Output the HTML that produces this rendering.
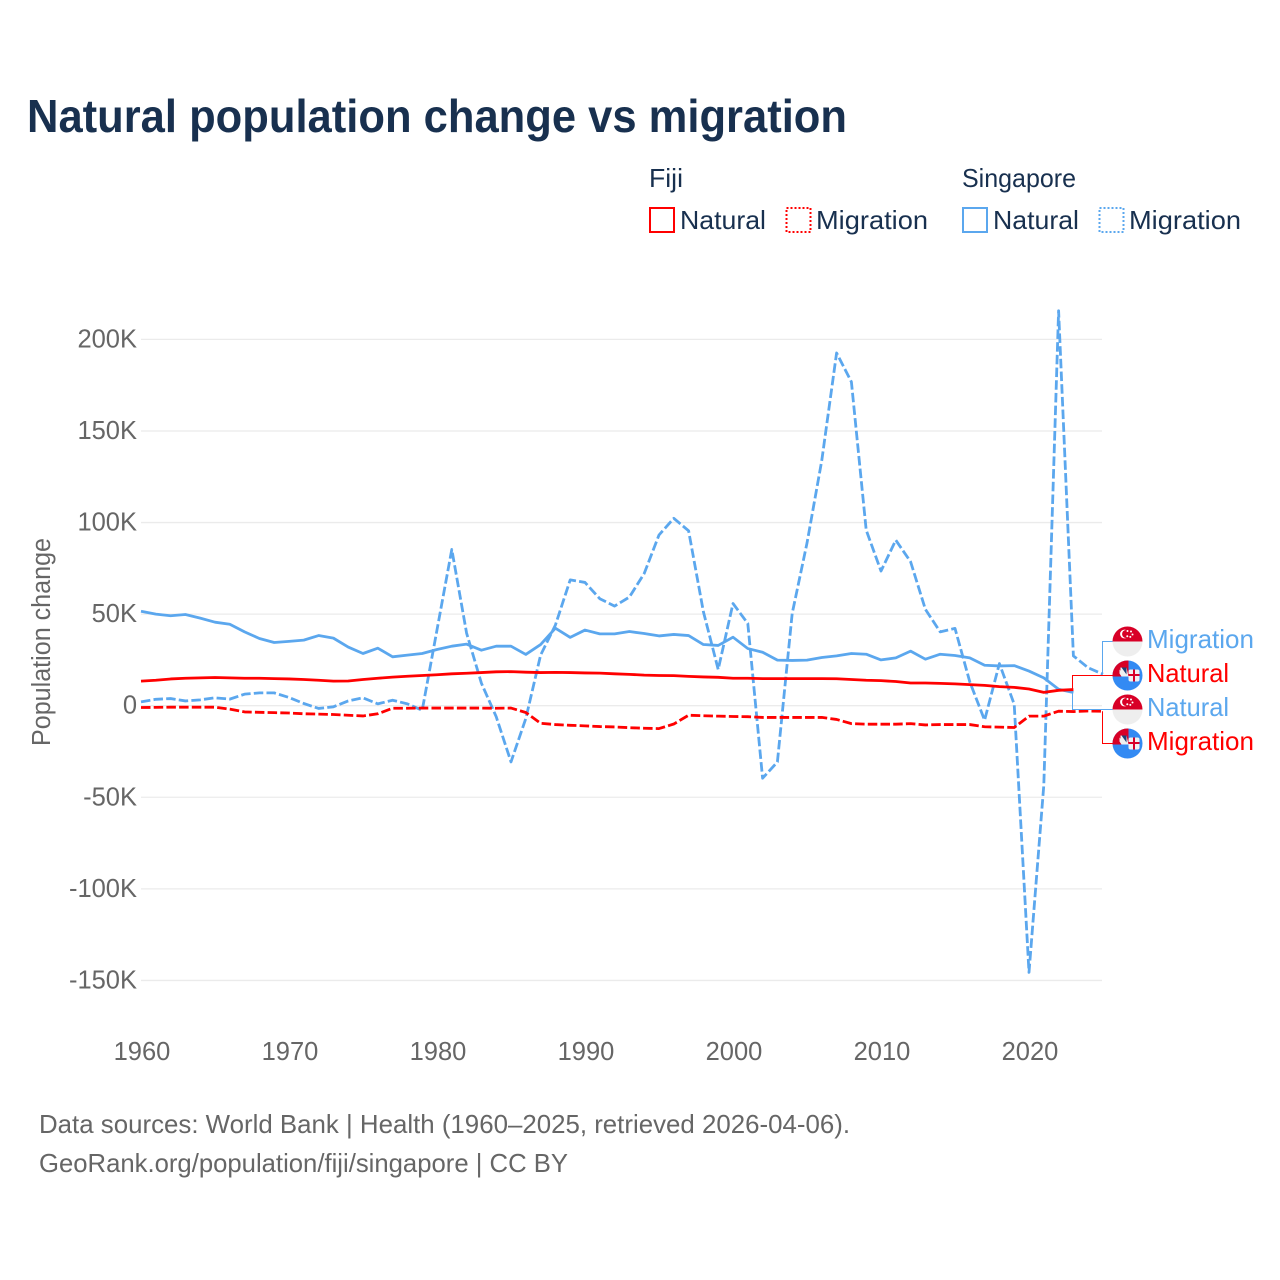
<!DOCTYPE html>
<html lang="en">
<head>
<meta charset="utf-8">
<title>Natural population change vs migration</title>
<style>
html,body{margin:0;padding:0;background:#fff;}
svg{display:block;font-family:"Liberation Sans",sans-serif;}
.tick{font-size:25.5px;fill:#666;}
.legend{font-size:26px;fill:#18304f;}
.end{font-size:26px;}
.foot{font-size:26px;fill:#666;}
</style>
</head>
<body>
<svg id="chart" width="1280" height="1280" viewBox="0 0 1280 1280" xmlns="http://www.w3.org/2000/svg">
<defs>
<clipPath id="flag-clip"><circle cx="0" cy="0" r="15"/></clipPath>
<g id="flag-sg" clip-path="url(#flag-clip)">
<rect x="-15" y="-15" width="30" height="30" fill="#eeeeee"/>
<rect x="-15" y="-15" width="30" height="15" fill="#d80027"/>
<circle cx="-3" cy="-7.5" r="4.4" fill="#fff"/>
<circle cx="-1.4" cy="-7.5" r="4" fill="#d80027"/>
<circle cx="0" cy="-10.5" r="1" fill="#fff"/>
<circle cx="3.5" cy="-10" r="1" fill="#fff"/>
<circle cx="5" cy="-7" r="1" fill="#fff"/>
<circle cx="2.8" cy="-4.6" r="1" fill="#fff"/>
<circle cx="-0.2" cy="-5.2" r="1" fill="#fff"/>
</g>
<g id="flag-fj" clip-path="url(#flag-clip)">
<rect x="-15" y="-15" width="30" height="30" fill="#338af3"/>
<rect x="-15" y="-15" width="16" height="16" fill="#d80027"/>
<polygon points="-7,-8 -1,-8 1,1 -3,1 -7,-4" fill="#f0f0f0"/>
<polygon points="-6,-8 -1,-8 -1,-1" fill="#1b3f78"/>
<polygon points="-8,-6 -2,1 -6,1 -8,-2" fill="#f0f0f0"/>
<rect x="1" y="-6" width="11" height="12" rx="2" fill="#f0f0f0"/>
<rect x="5.5" y="-6" width="2" height="12" fill="#d80027"/>
<rect x="1" y="-1.5" width="11" height="2" fill="#d80027"/>
</g>
</defs>

<text x="27" y="132" font-size="46" font-weight="700" fill="#18304f" textLength="820" lengthAdjust="spacingAndGlyphs">Natural population change vs migration</text>

<g>
<text class="legend" x="649" y="187" textLength="34" lengthAdjust="spacingAndGlyphs">Fiji</text>
<text class="legend" x="962" y="187" textLength="114" lengthAdjust="spacingAndGlyphs">Singapore</text>
<rect x="650" y="208" width="24" height="24" fill="none" stroke="#ff0000" stroke-width="2"/>
<text class="legend" x="680" y="229" textLength="86" lengthAdjust="spacingAndGlyphs">Natural</text>
<rect x="786.5" y="208" width="24" height="24" fill="none" stroke="#ff0000" stroke-width="2" stroke-dasharray="2 2"/>
<text class="legend" x="816" y="229" textLength="112" lengthAdjust="spacingAndGlyphs">Migration</text>
<rect x="963" y="208" width="24" height="24" fill="none" stroke="#5ba7ee" stroke-width="2"/>
<text class="legend" x="993" y="229" textLength="86" lengthAdjust="spacingAndGlyphs">Natural</text>
<rect x="1099.5" y="208" width="24" height="24" fill="none" stroke="#5ba7ee" stroke-width="2" stroke-dasharray="2 2"/>
<text class="legend" x="1129" y="229" textLength="112" lengthAdjust="spacingAndGlyphs">Migration</text>
</g>

<text transform="translate(50,642) rotate(-90)" text-anchor="middle" font-size="25.5" fill="#666" textLength="208" lengthAdjust="spacingAndGlyphs">Population change</text>

<g id="grid"></g>
<g id="yticks"></g>
<g id="xticks"></g>
<g id="series"></g>
<g id="connectors"></g>

<g>
<use href="#flag-sg" x="1127.5" y="641.5"/>
<text class="end" x="1147" y="648" fill="#5ba7ee" textLength="107" lengthAdjust="spacingAndGlyphs">Migration</text>
<use href="#flag-fj" x="1127.5" y="675.5"/>
<text class="end" x="1147" y="682" fill="#ff0000" textLength="82" lengthAdjust="spacingAndGlyphs">Natural</text>
<use href="#flag-sg" x="1127.5" y="709.5"/>
<text class="end" x="1147" y="716" fill="#5ba7ee" textLength="82" lengthAdjust="spacingAndGlyphs">Natural</text>
<use href="#flag-fj" x="1127.5" y="743.5"/>
<text class="end" x="1147" y="750" fill="#ff0000" textLength="107" lengthAdjust="spacingAndGlyphs">Migration</text>
</g>

<text class="foot" x="39" y="1133" textLength="811" lengthAdjust="spacingAndGlyphs">Data sources: World Bank | Health (1960–2025, retrieved 2026-04-06).</text>
<text class="foot" x="39" y="1172" textLength="529" lengthAdjust="spacingAndGlyphs">GeoRank.org/population/fiji/singapore | CC BY</text>
</svg>

<script>
const years = [1960,1961,1962,1963,1964,1965,1966,1967,1968,1969,1970,1971,1972,1973,1974,1975,1976,1977,1978,1979,1980,1981,1982,1983,1984,1985,1986,1987,1988,1989,1990,1991,1992,1993,1994,1995,1996,1997,1998,1999,2000,2001,2002,2003,2004,2005,2006,2007,2008,2009,2010,2011,2012,2013,2014,2015,2016,2017,2018,2019,2020,2021,2022,2023,2024,2025];
const singaporeNatural = [51.6,50,49.1,49.8,47.8,45.6,44.5,40.3,36.7,34.5,35.1,35.8,38.3,36.9,32,28.5,31.4,26.7,27.6,28.5,30.7,32.5,33.6,30.3,32.5,32.5,28,33.4,42.3,37.3,41.3,39.2,39.2,40.5,39.4,38.1,38.9,38.3,33.4,32.9,37.4,31.2,29.2,24.9,24.7,24.9,26.3,27.2,28.5,28.1,25,26.1,29.8,25.4,28.1,27.4,26.1,22.1,21.7,21.9,18.9,15.2,9,7.2];
const singaporeMigration = [2.1,3.5,3.9,2.6,3.2,4.3,3.6,6.3,7,7,4.5,1.2,-1.5,-0.6,2.6,4.3,1,3,1,-2.5,41.4,85.3,39.6,12.3,-6,-30.7,-7,27.6,44,68.7,67.3,58.4,54.4,59.3,72.2,93.2,102.3,95.5,51.3,19.8,55.8,44.9,-39.6,-30.7,50.4,88.8,134,192.6,176.8,95.9,73.5,90.4,78.6,52.6,40.3,42.2,13,-7.9,23,0.8,-145.6,-43.4,215.6,27.2,20.7,17.2];
const fijiNatural = [13.4,13.9,14.6,15,15.2,15.4,15.2,15,15,14.8,14.6,14.3,13.9,13.4,13.5,14.3,15,15.6,16.1,16.5,16.9,17.4,17.7,18.1,18.5,18.6,18.3,18.1,18.2,18.1,17.9,17.8,17.4,17.1,16.7,16.5,16.4,16,15.7,15.5,15,15,14.8,14.8,14.8,14.8,14.8,14.7,14.3,13.9,13.7,13.2,12.4,12.4,12.2,11.9,11.5,11.1,10.4,10,9.1,7.3,8.4,8.8];
const fijiMigration = [-1,-0.9,-0.8,-0.8,-0.8,-0.8,-1.9,-3.4,-3.6,-3.8,-4,-4.4,-4.6,-4.8,-5.2,-5.6,-4.4,-1.4,-1.4,-1.3,-1.3,-1.3,-1.3,-1.3,-1.4,-1.3,-3.7,-9.6,-10.3,-10.7,-11,-11.4,-11.6,-12,-12.3,-12.5,-10,-5.2,-5.5,-5.7,-5.9,-6,-6.4,-6.4,-6.4,-6.4,-6.4,-7.5,-9.8,-10.1,-10.1,-10.1,-9.8,-10.5,-10.3,-10.3,-10.3,-11.5,-11.7,-11.9,-5.7,-5.7,-3,-3.2,-2.9,-3];
const yTickValues = [-150,-100,-50,0,50,100,150,200];
const yTickLabels = ["-150K","-100K","-50K","0","50K","100K","150K","200K"];
const xTickValues = [1960,1970,1980,1990,2000,2010,2020];
const xTickLabels = ["1960","1970","1980","1990","2000","2010","2020"];

const NS = 'http://www.w3.org/2000/svg';
const BLUE = '#5ba7ee';
const RED = '#ff0000';
function xScale(year){ return 141 + (year - 1960) * 14.8; }
function yScale(v){ return 705.7 - v * 1.8315; }
function linePath(values){
  return values.map(function(v,i){ return (i ? 'L' : 'M') + xScale(years[i]).toFixed(2) + ',' + yScale(v).toFixed(2); }).join(' ');
}
const gridG = document.getElementById('grid');
const yG = document.getElementById('yticks');
yTickValues.forEach(function(v,i){
  const l = document.createElementNS(NS,'line');
  
  
  l.setAttribute('x1', 141); l.setAttribute('x2', 1102);
  l.setAttribute('y1', yScale(v)); l.setAttribute('y2', yScale(v));
  l.setAttribute('stroke', '#ebebeb'); l.setAttribute('stroke-width', 1.3);
  gridG.appendChild(l);
  const t = document.createElementNS(NS,'text');
  
  
  t.setAttribute('class', 'tick');
  t.setAttribute('x', 137); t.setAttribute('y', yScale(v) + 8);
  t.setAttribute('text-anchor', 'end');
  t.textContent = yTickLabels[i];
  yG.appendChild(t);
});
const xG = document.getElementById('xticks');
xTickValues.forEach(function(y,i){
  const t = document.createElementNS(NS,'text');
  
  
  t.setAttribute('class', 'tick');
  t.setAttribute('x', xScale(y) + 1); t.setAttribute('y', 1060);
  t.setAttribute('text-anchor', 'middle');
  t.textContent = xTickLabels[i];
  xG.appendChild(t);
});
const seriesG = document.getElementById('series');
const connG = document.getElementById('connectors');
function drawSeries(name, values, color, dash, labelY){
  const p = document.createElementNS(NS,'path');
  
  
  p.setAttribute('d', linePath(values));
  p.setAttribute('fill', 'none');
  p.setAttribute('stroke', color);
  p.setAttribute('stroke-width', 2.8);
  p.setAttribute('stroke-linejoin', 'round');
  if (dash) p.setAttribute('stroke-dasharray', dash);
  seriesG.appendChild(p);
  const last = values.length - 1;
  const ex = Math.floor(xScale(years[last])) - 0.5;
  const ey = yScale(values[last]);
  const c = document.createElementNS(NS,'path');
  
  
  c.setAttribute('d', 'M' + ex + ',' + ey + ' L' + ex + ',' + labelY + ' L1113,' + labelY);
  c.setAttribute('fill', 'none');
  c.setAttribute('stroke', color);
  c.setAttribute('stroke-width', 1);
  connG.appendChild(c);
}
drawSeries('line-singapore-natural', singaporeNatural, BLUE, null, 709.5);
drawSeries('line-singapore-migration', singaporeMigration, BLUE, '9.5 3.2', 641.5);
drawSeries('line-fiji-natural', fijiNatural, RED, null, 675.5);
drawSeries('line-fiji-migration', fijiMigration, RED, '9.5 3.2', 743.5);
</script>
</body>
</html>
